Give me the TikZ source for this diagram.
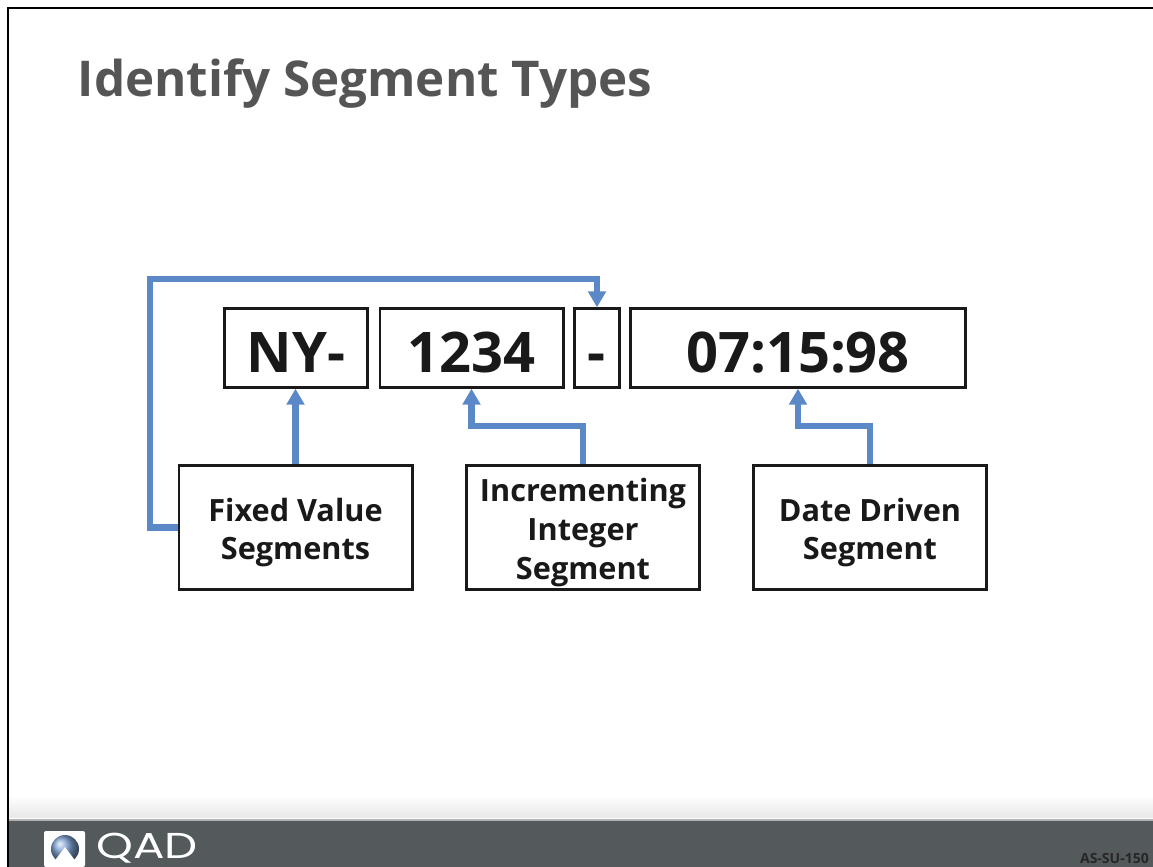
\documentclass[tikz,border=0pt]{standalone}
\usepackage{fontspec}
\setmainfont{Open Sans}
\newfontfamily\logofont{Poppins}
\usetikzlibrary{arrows.meta}
\definecolor{barcol}{HTML}{54595C}
\definecolor{linkcol}{HTML}{5B88C6}
\definecolor{titlecol}{HTML}{555555}
\newcommand{\typelift}{\rule{0pt}{25pt}}
\tikzset{
    segbox/.style={draw=black!90,line width=2pt,inner sep=0pt,minimum height=59pt,text height=36pt,text depth=0pt,font=\bfseries\fontsize{42}{42}\selectfont,text=black!90},
    typebox/.style={draw=black!90,line width=2pt,inner sep=0pt,minimum width=175pt,minimum height=93pt,align=center,font=\bfseries\fontsize{23}{29}\selectfont,text=black!90},
    link/.style={draw=linkcol,line width=4.6pt,-{Triangle[length=12pt,width=13pt]}}
}
\begin{document}
\begin{tikzpicture}[x=0.75pt,y=-0.75pt]
    \useasboundingbox (0,0) rectangle (1153,867);
    % slide frame and footer
    \draw[black,line width=1.5pt] (8,867) -- (8,8) -- (1153,8);
    \shade[top color=white,bottom color=black!9] (9,795) rectangle (1153,817);
    \fill[barcol] (9,820) rectangle (1153,867);
    \fill[black!30] (9,818.5) rectangle (1153,820.5);
    \node[anchor=west,text=titlecol,font=\bfseries\fontsize{37}{37}\selectfont] (title) at (73,84) {Identify Segment Types};
    % logo
    \fill[white,rounded corners=1.5pt] (44,831) -- (85,831) -- (85,867) -- (44,867) -- cycle;
    \shade[ball color=linkcol!80!white] (65,849) circle (14);
    \fill[white] (65,847) -- (80,867) -- (50,867) -- cycle;
    \node[anchor=base west,text=white,inner sep=0pt,font=\logofont\fontsize{27}{27}\selectfont] (logo) at (96,858) {\scalebox{1.3}[1]{QAD}};
    \node[anchor=east,text=black!85,inner sep=0pt,font=\bfseries\fontsize{10.5}{11}\selectfont] (code) at (1149,858) {AS-SU-150};
    % segments
    \node[segbox,minimum width=107pt] (fix) at (296,348) {NY-};
    \node[segbox,minimum width=137.5pt] (num) at (471.5,348) {1234};
    \node[segbox,minimum width=33.5pt] (sep) at (597,348) {-};
    \node[segbox,minimum width=251pt] (date) at (798,348) {07:15:98};
    % segment types
    \node[typebox] (fixtype) at (295.5,527.5) {\typelift Fixed Value\\Segments};
    \node[typebox] (numtype) at (583,527.5) {\typelift Incrementing\\Integer\\Segment};
    \node[typebox] (datetype) at (870,527.5) {\typelift Date Driven\\Segment};
    % connectors
    \coordinate (top) at (150,279);
    \coordinate (numbend) at (num.south |- 0,426);
    \coordinate (datebend) at (date.south |- 0,426);
    \draw[link] (fixtype.west) -| (top) -| (sep.north);
    \draw[link] (fixtype.north) -- (fixtype.north |- fix.south);
    \draw[link] (numtype.north) |- (numbend) -- (num.south);
    \draw[link] (datetype.north) |- (datebend) -- (date.south);
\end{tikzpicture}
\end{document}
